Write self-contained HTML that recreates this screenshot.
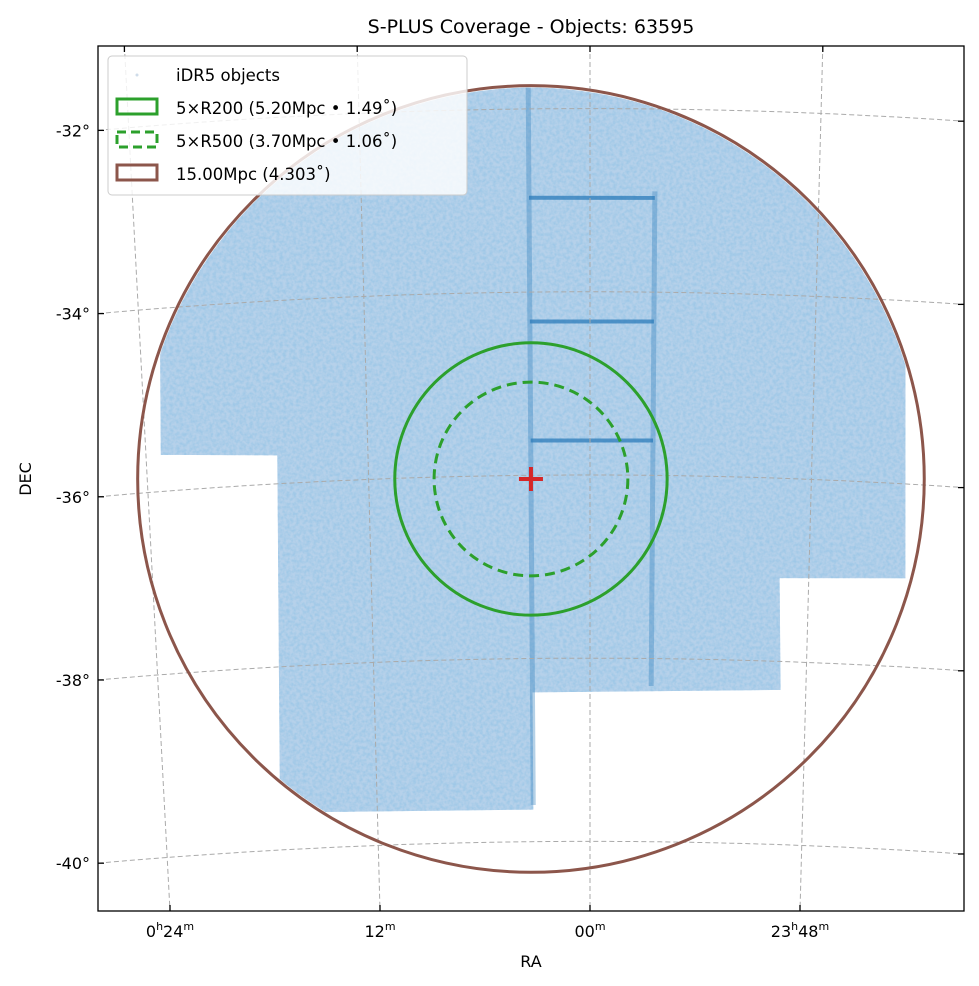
<!DOCTYPE html>
<html><head><meta charset="utf-8"><style>
html,body{margin:0;background:#fff;overflow:hidden}
svg{display:block}
svg text{font-family:"DejaVu Sans","Liberation Sans",sans-serif;fill:#000}
</style></head><body>
<svg id="chart" width="979" height="986" viewBox="0 0 979 986">
<defs>
<clipPath id="plotclip"><rect x="98" y="46" width="866" height="865"/></clipPath>
<clipPath id="circclip"><circle id="cc" cx="530" cy="479" r="393"/></clipPath>
<filter id="tex" x="0" y="0" width="100%" height="100%">
<feTurbulence type="fractalNoise" baseFrequency="0.3" numOctaves="2" seed="3" result="n"/>
<feColorMatrix in="n" type="matrix" values="0 0 0 0 0.35  0 0 0 0 0.58  0 0 0 0 0.80  0 0 0 -2.2 1.5" result="c"/>
<feComposite in="c" in2="SourceGraphic" operator="in"/>
</filter>
</defs>
<text x="531" y="33" font-size="19" text-anchor="middle">S-PLUS Coverage - Objects: 63595</text>
<g id="plot" clip-path="url(#plotclip)"></g>
<rect x="98" y="46" width="866" height="865" fill="none" stroke="#000" stroke-width="1.3"/>
<g id="axes"></g>
<text x="531" y="967" font-size="16" text-anchor="middle">RA</text>
<text transform="translate(31,479) rotate(-90)" font-size="16" text-anchor="middle">DEC</text>
<g>
<rect x="108" y="56" width="359" height="139" rx="4" fill="#fff" fill-opacity="0.82" stroke="#ccc"/>
<circle cx="137" cy="75" r="1.5" fill="#cfdcea"/>
<text x="176" y="81" font-size="16.5">iDR5 objects</text>
<rect x="117" y="99" width="40" height="15" fill="none" stroke="#2ca02c" stroke-width="3"/>
<text x="176" y="114" font-size="16.5">5×R200 (5.20Mpc • 1.49˚)</text>
<rect x="117" y="132" width="40" height="15" fill="none" stroke="#2ca02c" stroke-width="3" stroke-dasharray="9,5"/>
<text x="176" y="147" font-size="16.5">5×R500 (3.70Mpc • 1.06˚)</text>
<rect x="117" y="165" width="40" height="15" fill="none" stroke="#8c564b" stroke-width="3"/>
<text x="176" y="180" font-size="16.5">15.00Mpc (4.303˚)</text>
</g>
</svg>
<script>
// ---- data (RA in minutes offset from 0h, positive = east/left; Dec in degrees) ----
const footprintRA  = [22.3, -16.3, -17.3, -10.4, -10.6, 3.2, 3.2, 17.5, 16.9, 23.2];
const footprintDec = [-31.3, -31.4, -37.03, -37.09, -38.31, -38.37, -39.65, -39.59, -35.69, -35.60];
const stripeRA1  = [3.2, -3.4, 3.2, 3.2, 3.2];
const stripeRA2  = [3.2, -3.4, -3.4, -3.4, -3.4];
const stripeDec1 = [-31.3, -32.9, -32.97, -34.32, -35.62];
const stripeDec2 = [-39.6, -38.3, -32.97, -34.32, -35.62];
const centerRA = 3.2, centerDec = -36.04;
const circleRadiiDeg = [1.49, 1.06, 4.303];
const decTicks = [-32, -34, -36, -38, -40];
const decTickLabels = ["-32°", "-34°", "-36°", "-38°", "-40°"];
const raTicks = [24, 12, 0, -12];
const raTickMain = ["0", "", "", "23"];
const raTickMin = ["24", "12", "00", "48"];

// ---- axis functions ----
const K = 9e-5, PXDEG = 91.4;
function scaleAt(y){ return 19.4 - 1.9*(y-46)/865; }
function yBase(dec){ return 475 + (-36-dec)*91.6; }
function decY(x, dec){ return yBase(dec) + K*(x-590)*(x-590); }
function raX(y, m){ return 590 - m*scaleAt(y); }
function proj(m, dec){
  let y = yBase(dec), x = raX(y, m);
  for(let i=0;i<3;i++){ y = decY(x, dec); x = raX(y, m); }
  return [x, y];
}
const NS = "http://www.w3.org/2000/svg";
function mk(tag, attrs, parent){ const e=document.createElementNS(NS,tag); for(const k in attrs) e.setAttribute(k, attrs[k]); parent.appendChild(e); return e; }
const plot = document.getElementById('plot'), axes = document.getElementById('axes');

const c0 = proj(centerRA, centerDec);
document.getElementById('cc').setAttribute('cx', c0[0]);
document.getElementById('cc').setAttribute('cy', c0[1]);
document.getElementById('cc').setAttribute('r', circleRadiiDeg[2]*PXDEG - 2);

// footprint
const sg = mk('g', {'clip-path':'url(#circclip)'}, plot);


const pts = footprintRA.map((m,i)=>proj(m, footprintDec[i]).map(v=>v.toFixed(1)).join(','));
const fp = mk('polygon', {points: pts.join(' '), fill:'#b6d1ea'}, sg);


const fpt = mk('polygon', {points: pts.join(' '), fill:'#000', filter:'url(#tex)'}, sg);


stripeRA1.forEach((m,i)=>{
  const a = proj(m, stripeDec1[i]), b = proj(stripeRA2[i], stripeDec2[i]);
  const vert = m === stripeRA2[i];
  const l = mk('line', {x1:a[0],y1:a[1],x2:b[0],y2:b[1], stroke:'#2b7bba', 'stroke-opacity': vert?0.35:0.75, 'stroke-width': vert?5:4}, sg);
  
  
});

// grid
decTicks.concat([-30,-42]).forEach(d=>{
  let s=''; for(let x=90;x<=970;x+=10) s += x+','+decY(x,d).toFixed(1)+' ';
  const g = mk('polyline', {points:s, fill:'none', stroke:'#aaa', 'stroke-width':1, 'stroke-dasharray':'5,3'}, plot);
  
  
});
raTicks.forEach(m=>{
  const g = mk('line', {x1:raX(46,m), y1:46, x2:raX(911,m), y2:911, stroke:'#aaa', 'stroke-width':1, 'stroke-dasharray':'5,3'}, plot);
  
  
});

// circles
circleRadiiDeg.forEach((r,i)=>{
  const c = mk('circle', {cx:c0[0], cy:c0[1], r:r*PXDEG, fill:'none', stroke: i===2?'#8c564b':'#2ca02c', 'stroke-width':3, 'stroke-dasharray': i===1?'10,6':'none'}, plot);
  
  
});
const cr = mk('path', {d:`M${c0[0]-12},${c0[1]}h24M${c0[0]},${c0[1]-12}v24`, stroke:'#d62728', 'stroke-width':4}, plot);



// ticks
decTicks.forEach((d,i)=>{
  const yl = decY(98,d), yr = decY(964,d);
  const t1 = mk('line', {x1:98,y1:yl,x2:104,y2:yl,stroke:'#000','stroke-width':1.3}, axes);
  
  
  const t2 = mk('line', {x1:958,y1:yr,x2:964,y2:yr,stroke:'#000','stroke-width':1.3}, axes);
  
  
  const tx = mk('text', {x:90, y:yl+6, 'font-size':16, 'text-anchor':'end'}, axes);
  tx.textContent = decTickLabels[i];
  
  
});
raTicks.forEach((m,i)=>{
  const xb = raX(911,m), xt = raX(46,m);
  const t1 = mk('line', {x1:xb,y1:905,x2:xb,y2:911,stroke:'#000','stroke-width':1.3}, axes);
  
  
  const t2 = mk('line', {x1:xt,y1:46,x2:xt,y2:52,stroke:'#000','stroke-width':1.3}, axes);
  
  
  const tx = mk('text', {x:xb, y:937, 'font-size':16, 'text-anchor':'middle'}, axes);
  let html = '';
  if(raTickMain[i]) html += raTickMain[i] + '<tspan font-size="11" dy="-7">h</tspan><tspan dy="7">' + raTickMin[i] + '</tspan>';
  else html += raTickMin[i];
  html += '<tspan font-size="11" dy="-7">m</tspan>';
  tx.innerHTML = html;
  
  
});
</script>
</body></html>
